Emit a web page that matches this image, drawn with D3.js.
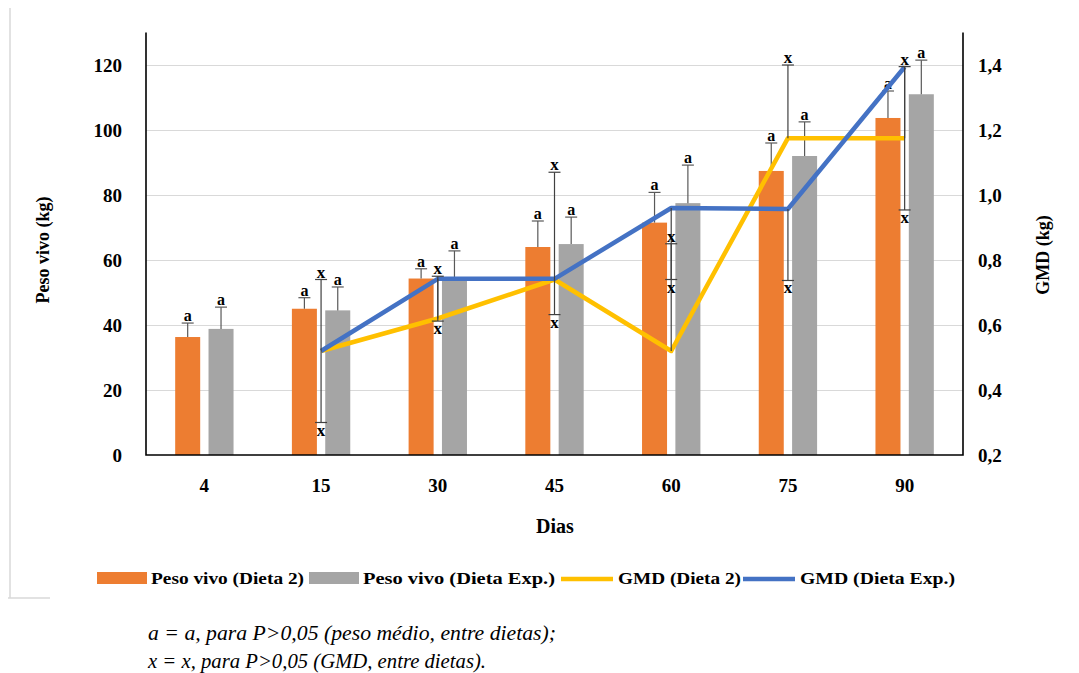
<!DOCTYPE html>
<html>
<head>
<meta charset="utf-8">
<script src="https://cdn.jsdelivr.net/npm/d3@7"></script>
<style>
  body { margin: 0; background: #fff; }
  svg { display: block; font-family: "Liberation Serif", "Times New Roman", "DejaVu Serif", serif; }
  .tick text { font-family: "Liberation Serif", "Times New Roman", serif; font-weight: bold; font-size: 19px; fill: #000; }
</style>
</head>
<body>
<svg id="chart" width="1079" height="673"></svg>
<script>
// data
const dias = ["4", "15", "30", "45", "60", "75", "90"];
const pesoD2 = [36.3, 45.0, 54.3, 64.0, 71.5, 87.4, 103.7];
const pesoExp = [38.8, 44.5, 53.8, 64.9, 77.5, 92.0, 111.0];
const errPesoD2 = [4.3, 3.4, 3.0, 8.0, 9.3, 8.6, 8.3];
const errPesoExp = [6.7, 7.2, 9.0, 8.3, 11.7, 10.5, 10.5];
const gmdD2 = [null, 0.52, 0.62, 0.74, 0.52, 1.175, 1.175];
const gmdExp = [null, 0.52, 0.742, 0.742, 0.96, 0.957, 1.394];
const errGmdD2 = [null, 0.22, 0.13, 0.33, 0.33, 0.225, 0.22];  // upward only
const errGmdExp = [null, 0.22, 0.13, 0.11, 0.22, 0.22, 0.44];  // downward only
const ticksPeso = [0, 20, 40, 60, 80, 100, 120];
const ticksGmd = [0.2, 0.4, 0.6, 0.8, 1.0, 1.2, 1.4];
const legendLabels = ["Peso vivo (Dieta 2)", "Peso vivo (Dieta Exp.)", "GMD (Dieta 2)", "GMD (Dieta Exp.)"];

const colors = { d2: "#ED7D31", exp: "#A5A5A5", gD2: "#FFC000", gExp: "#4472C4" };

const svg = d3.select("#chart");
var margin = { top: 32.5, left: 146, right: 963, bottom: 455 };

var x0 = d3.scaleBand().domain(dias).range([margin.left, margin.right])
  .paddingInner(0.5).paddingOuter(0.25);
var x1 = d3.scaleBand().domain(["d2", "exp"]).range([0, x0.bandwidth()])
  .paddingInner(0.25);
var yL = d3.scaleLinear().domain([0, 130]).range([margin.bottom, margin.top]);
var yR = d3.scaleLinear().domain([0.2, 1.5]).range([margin.bottom, margin.top]);
const cx = d => x0(d) + x0.bandwidth() / 2;

// frame remnants
svg.append("path")
  .attr("d", "M10,8V598M8,598H50")
  .attr("fill", "none").attr("stroke", "#d9d9d9").attr("stroke-width", 1.5);

// gridlines
svg.append("g")
  .attr("transform", `translate(${margin.left},0)`)
  .call(d3.axisLeft(yL).tickValues(ticksPeso.slice(1))
    .tickSize(-(margin.right - margin.left)).tickFormat(""))
  .call(g => g.select(".domain").remove())
  .call(g => g.selectAll("line").attr("stroke", "#d9d9d9").attr("stroke-width", 1.2));

// bars
const bars = dias.map((d, i) => ({ d, i }));
[["d2", pesoD2, errPesoD2], ["exp", pesoExp, errPesoExp]].forEach(([key, vals, errs]) => {
  svg.append("g").selectAll("rect").data(bars).join("rect")
    .attr("x", b => x0(b.d) + x1(key))
    .attr("width", x1.bandwidth())
    .attr("y", b => yL(vals[b.i]))
    .attr("height", b => yL(0) - yL(vals[b.i]))
    .attr("fill", colors[key]);

  const eb = svg.append("g").attr("stroke", "#595959").attr("stroke-width", 1.2);
  bars.forEach(b => {
    var x = x0(b.d) + x1(key) + x1.bandwidth() / 2;
    var top = yL(vals[b.i] + errs[b.i]);
    eb.append("line").attr("x1", x).attr("x2", x).attr("y1", yL(vals[b.i])).attr("y2", top);
    eb.append("line").attr("x1", x - 6).attr("x2", x + 6).attr("y1", top).attr("y2", top);
    svg.append("text").attr("x", x).attr("y", top - 2)
      .attr("text-anchor", "middle").attr("font-weight", "bold").attr("font-size", 16)
      .text("a");
  });
});

// axes
const axisFont = g => g.attr("font-family", "Liberation Serif").attr("font-weight", "bold").attr("font-size", 19);
svg.append("g")
  .attr("transform", `translate(${margin.left},0)`)
  .call(d3.axisLeft(yL).tickValues(ticksPeso).tickSize(0).tickPadding(24))
  .call(axisFont)
  .call(g => g.select(".domain").remove());
svg.append("g")
  .attr("transform", `translate(${margin.right},0)`)
  .call(d3.axisRight(yR).tickValues(ticksGmd).tickSize(0).tickPadding(15)
    .tickFormat(d => d.toFixed(1).replace(".", ",")))
  .call(axisFont)
  .call(g => g.select(".domain").remove());
svg.append("g")
  .attr("transform", `translate(0,${margin.bottom})`)
  .call(d3.axisBottom(x0).tickSize(0).tickPadding(24))
  .call(axisFont)
  .call(g => g.select(".domain").remove());

svg.append("path")
  .attr("d", `M${margin.left},${margin.top}V${margin.bottom}H${margin.right}V${margin.top}`)
  .attr("fill", "none").attr("stroke", "#000").attr("stroke-width", 1.6);

// GMD lines
const line = d3.line().x(p => cx(p.d)).y(p => yR(p.v));
[[gmdD2, colors.gD2], [gmdExp, colors.gExp]].forEach(([vals, c]) => {
  svg.append("path")
    .datum(dias.map((d, i) => ({ d, v: vals[i] })).filter(p => p.v != null))
    .attr("d", line)
    .attr("fill", "none").attr("stroke", c).attr("stroke-width", 4.5)
    .attr("stroke-linejoin", "round");
});

// GMD error bars with "x" labels
const ge = svg.append("g").attr("stroke", "#404040").attr("stroke-width", 1.2);
dias.forEach((d, i) => {
  if (gmdD2[i] == null) return;
  var x = cx(d);
  var up = yR(gmdD2[i] + errGmdD2[i]);
  var down = yR(gmdExp[i] - errGmdExp[i]);
  ge.append("line").attr("x1", x).attr("x2", x).attr("y1", yR(gmdD2[i])).attr("y2", up);
  ge.append("line").attr("x1", x - 6).attr("x2", x + 6).attr("y1", up).attr("y2", up);
  ge.append("line").attr("x1", x).attr("x2", x).attr("y1", yR(gmdExp[i])).attr("y2", down);
  ge.append("line").attr("x1", x - 6).attr("x2", x + 6).attr("y1", down).attr("y2", down);
  svg.append("text").attr("x", x).attr("y", up - 2)
    .attr("text-anchor", "middle").attr("font-weight", "bold").attr("font-size", 17).text("x");
  svg.append("text").attr("x", x).attr("y", down + 13)
    .attr("text-anchor", "middle").attr("font-weight", "bold").attr("font-size", 17).text("x");
});

// axis titles
svg.append("text")
  .attr("transform", "translate(49,250) rotate(-90)")
  .attr("text-anchor", "middle").attr("font-weight", "bold").attr("font-size", 18)
  .text("Peso vivo (kg)");
svg.append("text")
  .attr("transform", "translate(1049,255) rotate(-90)")
  .attr("text-anchor", "middle").attr("font-weight", "bold").attr("font-size", 18)
  .text("GMD (kg)");
svg.append("text")
  .attr("x", 555).attr("y", 533)
  .attr("text-anchor", "middle").attr("font-weight", "bold").attr("font-size", 20)
  .text("Dias");

// legend
const legX = [97, 309, 561, 743];
const legW = [153, 192, 123, 155];
const leg = svg.append("g").attr("font-weight", "bold").attr("font-size", 17);
legendLabels.forEach((t, i) => {
  var x = legX[i];
  if (i < 2) {
    leg.append("rect").attr("x", x).attr("y", 572).attr("width", 50).attr("height", 12)
      .attr("fill", i == 0 ? colors.d2 : colors.exp);
  } else {
    leg.append("line").attr("x1", x).attr("x2", x + 52).attr("y1", 579).attr("y2", 579)
      .attr("stroke", i == 2 ? colors.gD2 : colors.gExp).attr("stroke-width", 4.5);
  }
  leg.append("text").attr("x", x + (i < 2 ? 54 : 57)).attr("y", 584)
    .attr("textLength", legW[i]).attr("lengthAdjust", "spacingAndGlyphs")
    .text(t);
});

// footnotes
const notes = svg.append("g").attr("font-style", "italic").attr("font-size", 21);
notes.append("text").attr("x", 148).attr("y", 640)
  .attr("textLength", 408).attr("lengthAdjust", "spacingAndGlyphs")
  .text("a = a, para P>0,05 (peso médio, entre dietas);");
notes.append("text").attr("x", 148).attr("y", 668)
  .attr("textLength", 338).attr("lengthAdjust", "spacingAndGlyphs")
  .text("x = x, para P>0,05 (GMD, entre dietas).");
</script>
</body>
</html>
